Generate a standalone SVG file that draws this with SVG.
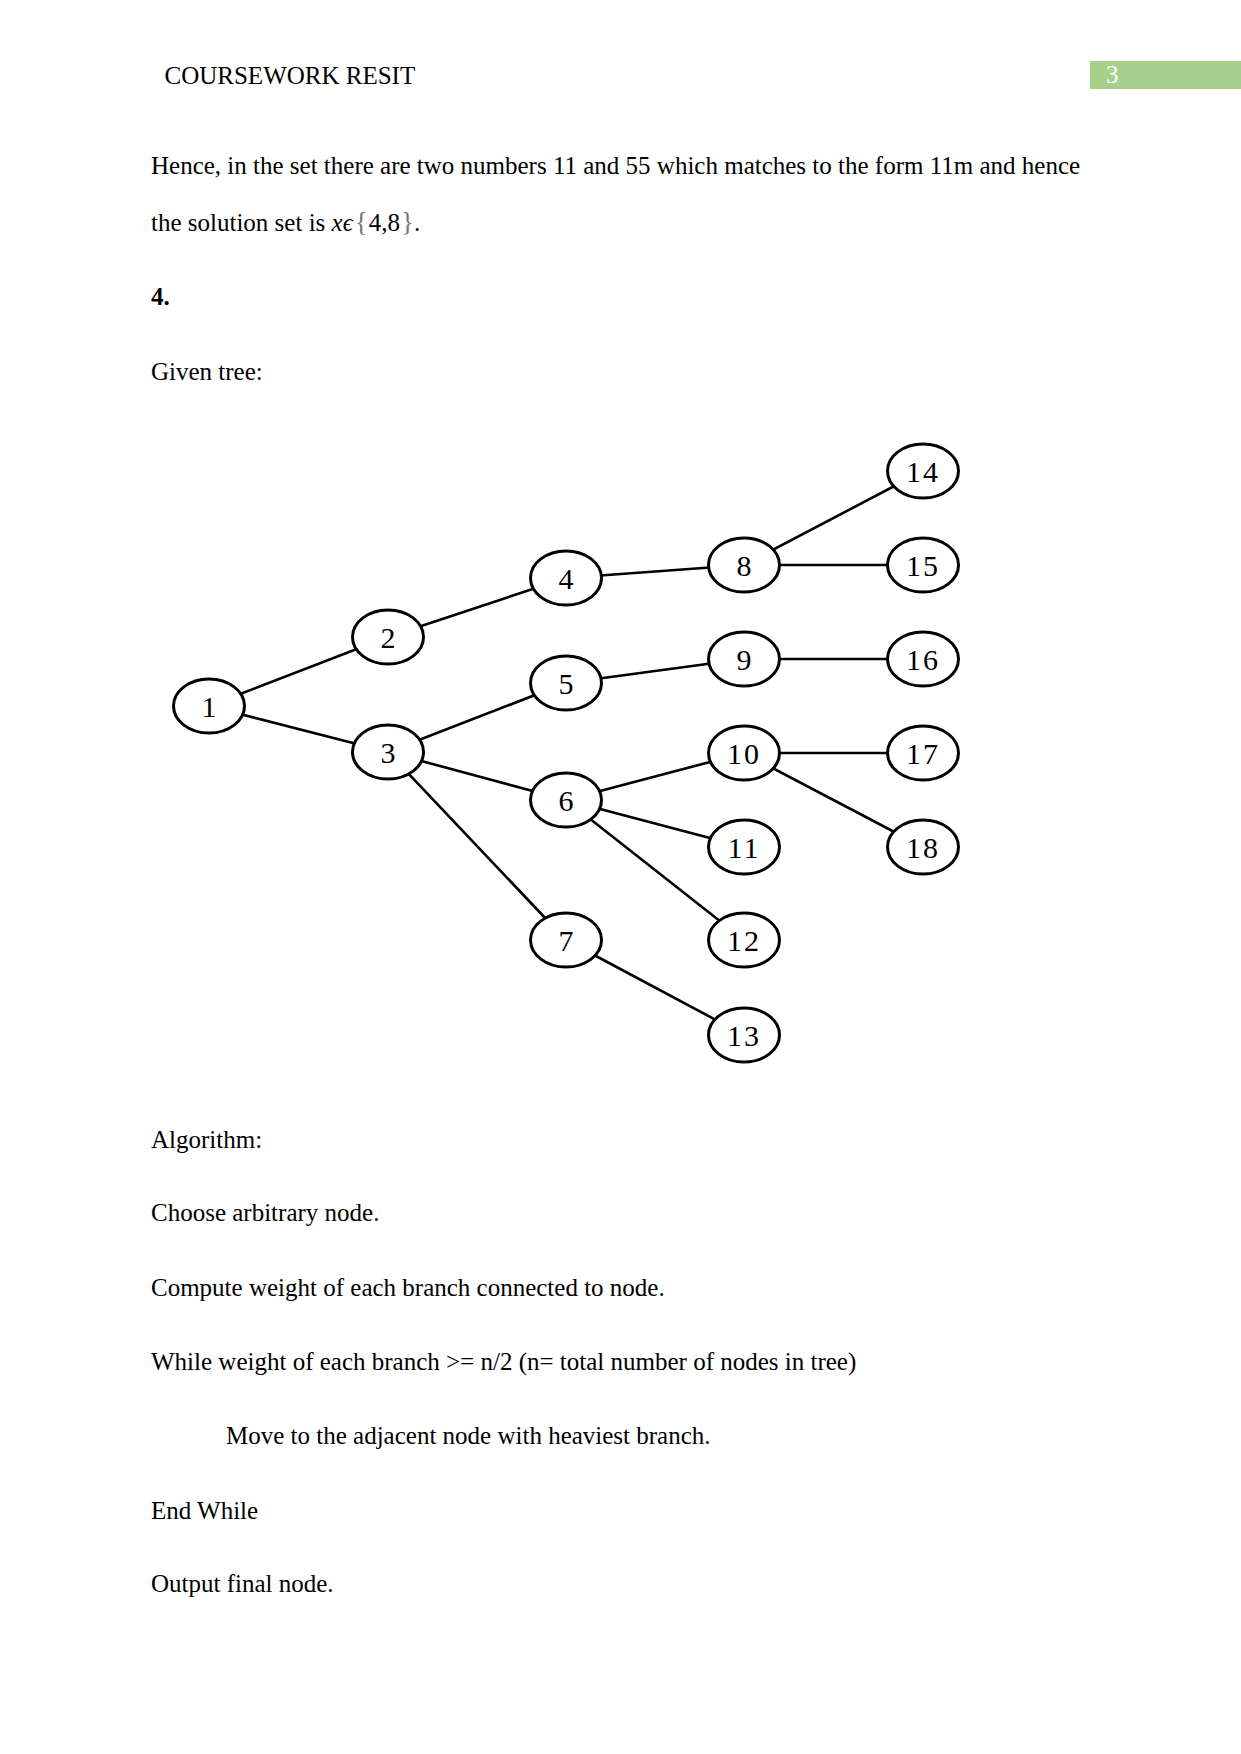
<svg xmlns="http://www.w3.org/2000/svg" width="1241" height="1754" viewBox="0 0 1241 1754">
<style>
.t{font-family:"Liberation Serif","Times New Roman",serif;font-size:25px;fill:#000}
.n ellipse{fill:#fff;stroke:#000;stroke-width:3}
.n text{font-family:"Liberation Serif","Times New Roman",serif;font-size:30px;fill:#000;text-anchor:middle}
#edges line{stroke:#000;stroke-width:2.6}
</style>
<rect width="1241" height="1754" fill="#fff"/>
<rect x="1090" y="61" width="151" height="28" fill="#a8d08d"/>
<text class="t" x="1106" y="83" style="fill:#fff">3</text>
<text class="t" x="164.5" y="84">COURSEWORK RESIT</text>
<text class="t" x="151" y="173.5">Hence, in the set there are two numbers 11 and 55 which matches to the form 11m and hence</text>
<text class="t" x="151" y="230.5">the solution set is <tspan font-style="italic">xϵ</tspan><tspan fill="#777" font-size="27" dx="2">{</tspan><tspan dx="1">4,8</tspan><tspan fill="#777" font-size="27" dx="1">}</tspan>.</text>
<text class="t" x="151" y="305" font-weight="bold">4.</text>
<text class="t" x="151" y="379.5">Given tree:</text>
<text class="t" x="151" y="1147.5">Algorithm:</text>
<text class="t" x="151" y="1221">Choose arbitrary node.</text>
<text class="t" x="151" y="1295.5">Compute weight of each branch connected to node.</text>
<text class="t" x="151" y="1370">While weight of each branch &gt;= n/2 (n= total number of nodes in tree)</text>
<text class="t" x="226" y="1444">Move to the adjacent node with heaviest branch.</text>
<text class="t" x="151" y="1518.5">End While</text>
<text class="t" x="151" y="1592">Output final node.</text>
<g id="edges">
<line x1="209" y1="706" x2="388" y2="637"/>
<line x1="209" y1="706" x2="388" y2="752"/>
<line x1="388" y1="637" x2="566" y2="578"/>
<line x1="388" y1="752" x2="566" y2="683"/>
<line x1="388" y1="752" x2="566" y2="800"/>
<line x1="388" y1="752" x2="566" y2="940"/>
<line x1="566" y1="578" x2="744" y2="565"/>
<line x1="566" y1="683" x2="744" y2="659"/>
<line x1="566" y1="800" x2="744" y2="753"/>
<line x1="566" y1="800" x2="744" y2="847"/>
<line x1="566" y1="800" x2="744" y2="940"/>
<line x1="566" y1="940" x2="744" y2="1035"/>
<line x1="744" y1="565" x2="923" y2="471"/>
<line x1="744" y1="565" x2="923" y2="565"/>
<line x1="744" y1="659" x2="923" y2="659"/>
<line x1="744" y1="753" x2="923" y2="753"/>
<line x1="744" y1="753" x2="923" y2="847"/>
</g>
<g id="n1" class="n"><ellipse cx="209" cy="706" rx="35.5" ry="27"/><text x="209" y="716.5">1</text></g>
<g id="n2" class="n"><ellipse cx="388" cy="637" rx="35.5" ry="27"/><text x="388" y="647.5">2</text></g>
<g id="n3" class="n"><ellipse cx="388" cy="752" rx="35.5" ry="27"/><text x="388" y="762.5">3</text></g>
<g id="n4" class="n"><ellipse cx="566" cy="578" rx="35.5" ry="27"/><text x="566" y="588.5">4</text></g>
<g id="n5" class="n"><ellipse cx="566" cy="683" rx="35.5" ry="27"/><text x="566" y="693.5">5</text></g>
<g id="n6" class="n"><ellipse cx="566" cy="800" rx="35.5" ry="27"/><text x="566" y="810.5">6</text></g>
<g id="n7" class="n"><ellipse cx="566" cy="940" rx="35.5" ry="27"/><text x="566" y="950.5">7</text></g>
<g id="n8" class="n"><ellipse cx="744" cy="565" rx="35.5" ry="27"/><text x="744" y="575.5">8</text></g>
<g id="n9" class="n"><ellipse cx="744" cy="659" rx="35.5" ry="27"/><text x="744" y="669.5">9</text></g>
<g id="n10" class="n"><ellipse cx="744" cy="753" rx="35.5" ry="27"/><text x="744" y="763.5" letter-spacing="2">10</text></g>
<g id="n11" class="n"><ellipse cx="744" cy="847" rx="35.5" ry="27"/><text x="744" y="857.5" letter-spacing="2">11</text></g>
<g id="n12" class="n"><ellipse cx="744" cy="940" rx="35.5" ry="27"/><text x="744" y="950.5" letter-spacing="2">12</text></g>
<g id="n13" class="n"><ellipse cx="744" cy="1035" rx="35.5" ry="27"/><text x="744" y="1045.5" letter-spacing="2">13</text></g>
<g id="n14" class="n"><ellipse cx="923" cy="471" rx="35.5" ry="27"/><text x="923" y="481.5" letter-spacing="2">14</text></g>
<g id="n15" class="n"><ellipse cx="923" cy="565" rx="35.5" ry="27"/><text x="923" y="575.5" letter-spacing="2">15</text></g>
<g id="n16" class="n"><ellipse cx="923" cy="659" rx="35.5" ry="27"/><text x="923" y="669.5" letter-spacing="2">16</text></g>
<g id="n17" class="n"><ellipse cx="923" cy="753" rx="35.5" ry="27"/><text x="923" y="763.5" letter-spacing="2">17</text></g>
<g id="n18" class="n"><ellipse cx="923" cy="847" rx="35.5" ry="27"/><text x="923" y="857.5" letter-spacing="2">18</text></g>
</svg>
